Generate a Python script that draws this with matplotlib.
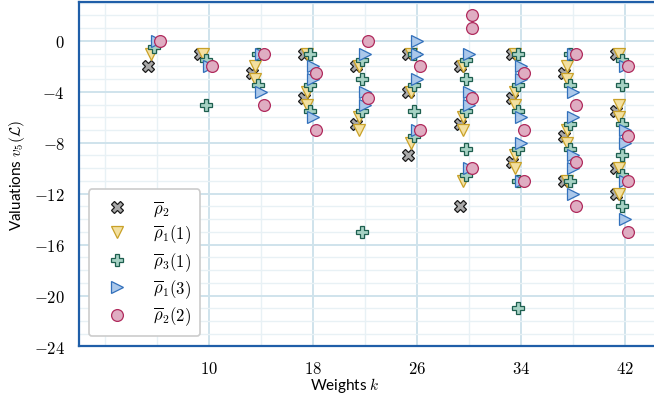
import matplotlib
matplotlib.use("Agg")
import matplotlib.pyplot as plt
from matplotlib.ticker import FixedLocator, FuncFormatter

plt.rcParams['mathtext.fontset'] = 'cm'
plt.rcParams['font.family'] = ['Lato', 'DejaVu Sans']

#%% data: weight k -> valuations
rho2 = {6: [-2], 10: [-1], 14: [-2.5], 18: [-1, -4.5], 22: [-2, -6.5],
        26: [-1, -4, -9], 30: [-2, -6.5, -13], 34: [-1, -4.5, -9.5],
        38: [-2.5, -7.5, -11], 42: [-1, -5.5, -10, -12]}
rho1_1 = {6: [-1], 10: [-1], 14: [-2, -3], 18: [-1, -4, -5], 22: [-2, -6, -7],
          26: [-1, -4, -8], 30: [-2, -6, -7, -11], 34: [-1, -4, -5, -9, -10],
          38: [-2, -3, -7, -8, -11], 42: [-1, -5, -6, -10, -12]}
rho3_1 = {6: [-0.5], 10: [-1.5, -5], 14: [-1, -3.5], 18: [-1, -3.5, -5.5],
          22: [-1.5, -3, -5.5, -15], 26: [-1, -3.5, -5.5, -7.5],
          30: [-1.5, -3, -5.5, -8.5, -10.5], 34: [-1, -3.5, -5.5, -8.5, -11, -21],
          38: [-1, -3.5, -6.5, -8.5, -11], 42: [-1.5, -3.5, -6.5, -9, -10.5, -13]}
rho1_3 = {6: [0], 10: [-2], 14: [-1, -4], 18: [-2, -3, -6], 22: [-1, -4, -5],
          26: [0, -1, -3, -7], 30: [-1, -4, -5, -10], 34: [-2, -3, -6, -8, -11],
          38: [-1, -4, -6, -9, -10, -12], 42: [-2, -7, -8, -11, -14]}
rho2_2 = {6: [0], 10: [-2], 14: [-1, -5], 18: [-2.5, -7], 22: [0, -4.5],
          26: [-2, -7], 30: [2, 1, -4.5, -10], 34: [-2.5, -7, -11],
          38: [-1, -5, -9.5, -13], 42: [-2, -7.5, -11, -15]}

labels = [r'$\overline{\rho}_2$', r'$\overline{\rho}_1(1)$', r'$\overline{\rho}_3(1)$',
          r'$\overline{\rho}_1(3)$', r'$\overline{\rho}_2(2)$']
xticks = [10, 18, 26, 34, 42]
yticks = [0, -4, -8, -12, -16, -20, -24]

# styles: (marker, offset, face, edge, size)
styles = [('X', -0.7, '#a9a9a9', '#1a1a1a', 8.5),
          ('v', -0.48, '#f3e0a0', '#c9a128', 8.5),
          ('P', -0.25, '#a6d2c4', '#1e5f4f', 8.5),
          ('>', 0.0, '#abc8ea', '#3270bb', 8.5),
          ('o', 0.27, '#dfadc2', '#b02a5c', 8.5)]

fig = plt.figure(figsize=(6.54, 4.02), dpi=100)
ax = fig.add_axes([0.1208, 0.1356, 0.8792, 0.857])

for series, lab, (mk, off, fc, ec, ms) in zip([rho2, rho1_1, rho3_1, rho1_3, rho2_2], labels, styles):
    xs, ys = [], []
    for k, vals in series.items():
        for v in vals:
            xs.append(k + off)
            ys.append(v)
    ax.plot(xs, ys, linestyle='none', marker=mk, markersize=ms, markerfacecolor=fc,
            markeredgecolor=ec, markeredgewidth=0.9, label=lab, zorder=3)

ax.set_xlim(0, 44.25)
ax.set_ylim(-24, 3.05)
ax.xaxis.set_major_locator(FixedLocator(xticks))
ax.xaxis.set_minor_locator(FixedLocator([2, 6, 14, 22, 30, 38]))
ax.yaxis.set_major_locator(FixedLocator(yticks))
ax.yaxis.set_minor_locator(FixedLocator([v for v in range(-23, 4) if v % 4 != 0]))
fmt = FuncFormatter(lambda v, p: r'$%d$' % v)
ax.xaxis.set_major_formatter(fmt)
ax.yaxis.set_major_formatter(fmt)
ax.tick_params(which='both', length=0, labelsize=12)
ax.tick_params(axis='x', pad=10)
ax.tick_params(axis='y', pad=10)

ax.grid(which='major', color='#cfe3ec', linewidth=1.4, zorder=0)
ax.grid(which='minor', color='#e8f1f5', linewidth=1.0, zorder=0)
ax.set_axisbelow(True)

for side in ['left', 'bottom', 'top']:
    ax.spines[side].set_color('#1f5ea8')
    ax.spines[side].set_linewidth(1.6)
ax.spines['right'].set_visible(False)

ax.set_xlabel(r'Weights $k$', fontsize=11)
ax.set_ylabel(r'Valuations $v_5(\mathcal{L})$', fontsize=11)
ax.xaxis.set_label_coords(0.463, -0.083)
ax.yaxis.set_label_coords(-0.09, 0.5)

leg = ax.legend(loc='lower left', fontsize=12, frameon=True, fancybox=True,
                framealpha=1, edgecolor='#cccccc', borderpad=0.55, labelspacing=0.28,
                handlelength=2.2, handletextpad=1.1, borderaxespad=0.6)
leg.get_frame().set_linewidth(1.2)

fig.savefig('out.png', dpi=100)
